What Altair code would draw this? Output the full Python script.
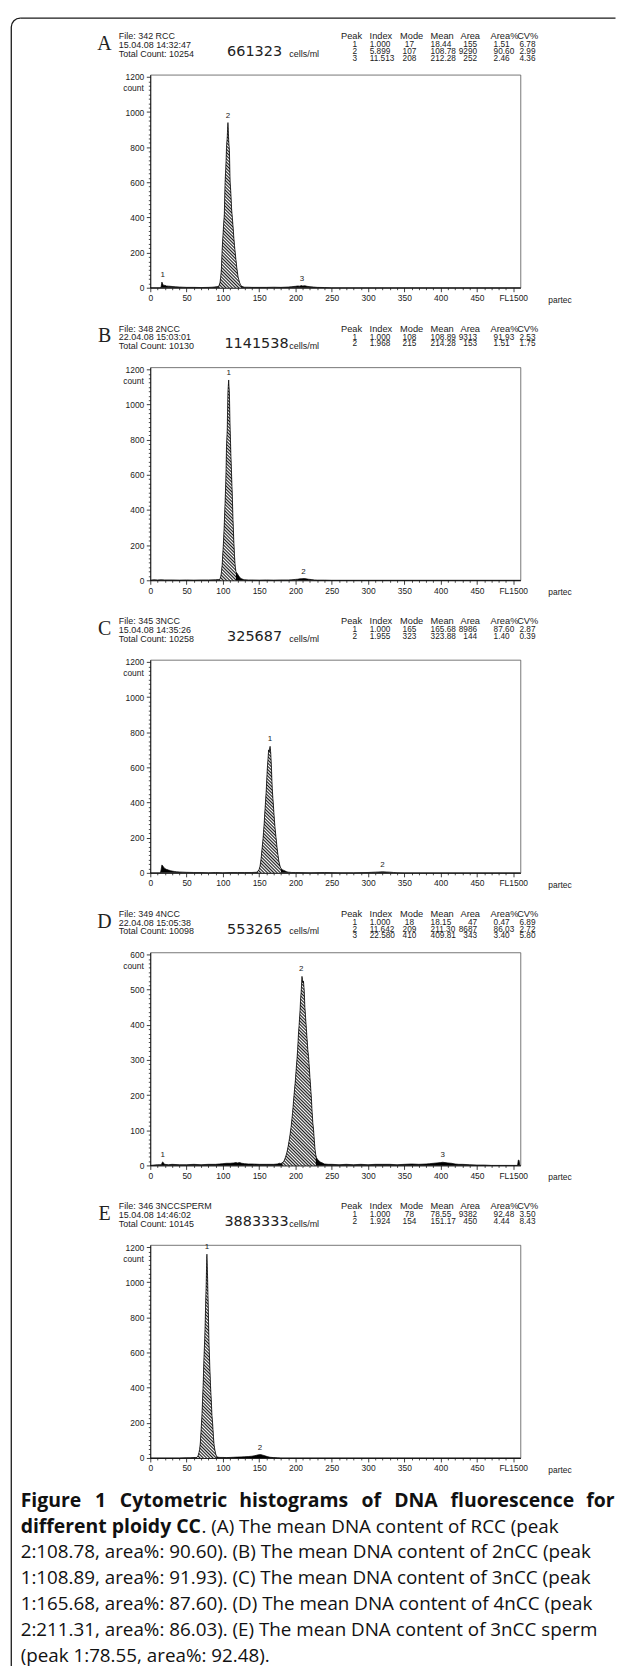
import math
import altair as alt
import pandas as pd

# ---------------- data (channel, count) ----------------
XMAX = 510
A_HIST = [(0,0),(14,0),(15,8),(16,32),(17,22),(18,14),(19,12),(20,14),(22,10),(25,9),(28,8),(30,7),(35,5),(40,4),(45,3),(50,2),(60,2),(70,1),(80,2),(85,3),(88,4),(90,5),(92,6),(94,8),(95,15),(96,30),(97,60),(98,110),(99,220),(100,290),(101,360),(102,420),(103,600),(104,680),(105,800),(106,860),(107,940),(108,840),(109,780),(110,600),(111,540),(112,450),(113,400),(114,350),(115,290),(116,240),(117,200),(118,160),(119,120),(120,90),(121,60),(122,45),(123,30),(124,20),(125,12),(126,8),(128,5),(130,3),(135,3),(140,2),(150,2),(160,2),(170,3),(180,2),(190,4),(195,6),(200,8),(203,10),(206,9),(208,12),(210,10),(213,11),(216,8),(220,6),(225,4),(230,2),(240,1),(250,0),(510,0)]
B_HIST = [(0,0),(2,2),(5,3),(10,2),(15,3),(20,2),(30,2),(40,1),(50,2),(60,1),(70,2),(80,2),(90,3),(94,4),(95,3),(96,8),(97,20),(98,45),(99,90),(100,160),(101,230),(102,330),(103,440),(104,560),(105,760),(106,860),(107,1080),(108,1140),(109,1060),(110,860),(111,720),(112,600),(113,480),(114,340),(115,230),(116,140),(117,80),(118,50),(119,42),(120,38),(121,30),(122,24),(123,18),(124,13),(125,10),(126,8),(128,5),(130,3),(135,2),(140,2),(150,1),(160,2),(170,1),(180,2),(190,2),(195,3),(200,5),(203,6),(206,8),(209,9),(212,10),(215,8),(218,6),(222,4),(226,2),(230,1),(240,1),(250,0),(510,0)]
C_HIST = [(0,0),(14,0),(15,20),(16,45),(17,40),(18,35),(19,28),(20,25),(22,20),(25,16),(28,12),(30,10),(33,8),(36,6),(40,5),(45,4),(50,3),(60,2),(70,2),(80,1),(90,2),(100,1),(110,2),(120,2),(130,2),(140,2),(144,3),(146,3),(148,8),(150,20),(151,35),(152,60),(153,95),(154,140),(155,180),(156,230),(157,290),(158,360),(159,420),(160,490),(161,580),(162,640),(163,700),(164,690),(165,720),(166,680),(167,590),(168,480),(169,420),(170,360),(171,300),(172,250),(173,210),(174,170),(175,130),(176,100),(177,70),(178,50),(179,35),(180,25),(182,18),(184,14),(186,10),(188,6),(190,4),(195,2),(200,2),(220,1),(240,2),(260,1),(280,1),(300,2),(305,3),(310,4),(315,5),(320,6),(325,5),(330,4),(335,2),(340,1),(350,0),(510,0)]
D_HIST = [(0,0),(5,1),(10,2),(15,2),(16,6),(17,10),(18,8),(19,4),(20,3),(25,2),(30,3),(40,2),(50,2),(60,3),(70,2),(80,3),(90,3),(95,4),(100,5),(105,6),(110,6),(115,7),(118,8),(120,7),(123,8),(126,6),(130,5),(135,4),(140,4),(150,3),(160,3),(170,3),(175,4),(178,6),(180,5),(182,8),(184,12),(186,22),(188,35),(190,55),(192,80),(194,110),(196,150),(198,200),(200,245),(201,275),(202,300),(203,330),(204,370),(205,400),(206,430),(207,470),(208,500),(209,538),(210,520),(211,525),(212,500),(213,450),(214,420),(215,390),(216,360),(217,330),(218,310),(219,280),(220,250),(221,220),(222,190),(223,150),(224,120),(225,100),(226,70),(227,45),(228,30),(229,22),(230,18),(232,14),(234,10),(236,8),(238,6),(240,4),(245,3),(250,3),(260,2),(270,3),(280,2),(290,3),(300,2),(310,3),(320,3),(330,3),(340,2),(350,3),(360,4),(370,3),(380,4),(385,5),(390,6),(395,7),(400,8),(403,9),(406,8),(410,7),(415,6),(420,4),(425,3),(430,3),(440,2),(450,1),(460,1),(470,0),(506,0),(507,15),(508,15),(509,0),(510,0)]
E_HIST = [(0,0),(40,0),(50,1),(55,1),(60,2),(62,2),(64,3),(65,8),(66,15),(67,30),(68,50),(69,90),(70,160),(71,230),(72,330),(73,440),(74,580),(75,680),(76,830),(77,1000),(78,1160),(79,1020),(80,830),(81,640),(82,520),(83,410),(84,330),(85,240),(86,190),(87,120),(88,70),(89,45),(90,25),(91,12),(92,6),(94,4),(96,3),(100,3),(105,2),(110,3),(115,4),(120,5),(125,6),(130,7),(135,8),(140,10),(143,12),(146,15),(149,18),(152,19),(155,16),(158,12),(161,8),(165,4),(170,2),(175,1),(180,0),(510,0)]

A_PEAKS = [(17, 32, "1"), (107, 940, "2"), (209, 12, "3")]
B_PEAKS = [(108, 1140, "1"), (211, 10, "2")]
C_PEAKS = [(165, 720, "1"), (320, 6, "2")]
D_PEAKS = [(17, 10, "1"), (208, 538, "2"), (403, 9, "3")]
E_PEAKS = [(78, 1160, "1"), (151, 19, "2")]

A_FILE = ["File: 342 RCC", "15.04.08 14:32:47", "Total Count:  10254"]
B_FILE = ["File: 348 2NCC", "22.04.08 15:03:01", "Total Count:  10130"]
C_FILE = ["File: 345 3NCC", "15.04.08 14:35:26", "Total Count:  10258"]
D_FILE = ["File: 349 4NCC", "22.04.08 15:05:38", "Total Count:  10098"]
E_FILE = ["File: 346 3NCCSPERM", "15.04.08 14:46:02", "Total Count:  10145"]

TABLE_HEAD = ["Peak", "Index", "Mode", "Mean", "Area", "Area%", "CV%"]
A_ROWS = [["1", "1.000", "17", "18.44", "155", "1.51", "6.78"],
          ["2", "5.899", "107", "108.78", "9290", "90.60", "2.99"],
          ["3", "11.513", "208", "212.28", "252", "2.46", "4.36"]]
B_ROWS = [["1", "1.000", "108", "108.89", "9313", "91.93", "2.53"],
          ["2", "1.968", "215", "214.28", "153", "1.51", "1.75"]]
C_ROWS = [["1", "1.000", "165", "165.68", "8986", "87.60", "2.87"],
          ["2", "1.955", "323", "323.88", "144", "1.40", "0.39"]]
D_ROWS = [["1", "1.000", "18", "18.15", "47", "0.47", "6.89"],
          ["2", "11.642", "209", "211.30", "8687", "86.03", "2.72"],
          ["3", "22.580", "410", "409.81", "343", "3.40", "5.80"]]
E_ROWS = [["1", "1.000", "78", "78.55", "9382", "92.48", "3.50"],
          ["2", "1.924", "154", "151.17", "450", "4.44", "8.43"]]

X_TICKS = list(range(0, 501, 50))
X_MINOR = [v for v in range(0, 501, 10) if v % 50]
Y_TICKS_1200 = [0, 200, 400, 600, 800, 1000, 1200]
Y_MINOR_1200 = [v * 25 for v in range(49) if (v * 25) % 200]
Y_TICKS_600 = [0, 100, 200, 300, 400, 500, 600]
Y_MINOR_600 = [v * 12.5 for v in range(49) if (v * 12.5) % 100]

CAPTION_WORDS_1 = ["Figure", "1", "Cytometric", "histograms", "of", "DNA", "fluorescence", "for"]
CAPTION_BOLD_2 = "different ploidy CC"
CAPTION_REST_2 = ". (A) The mean DNA content of RCC (peak"
CAPTION_LINES = [
    "2:108.78, area%: 90.60). (B) The mean DNA content of 2nCC (peak",
    "1:108.89, area%: 91.93). (C) The mean DNA content of 3nCC (peak",
    "1:165.68, area%: 87.60). (D) The mean DNA content of 4nCC (peak",
    "2:211.31, area%: 86.03). (E) The mean DNA content of 3nCC sperm",
    "(peak 1:78.55, area%: 92.48).",
]

PANELS = [
    dict(letter="A", hist=A_HIST, gate=(95, 125), ymax=1212, major=Y_TICKS_1200, minor=Y_MINOR_1200,
         file=A_FILE, number="661323", rows=A_ROWS, peaks=A_PEAKS),
    dict(letter="B", hist=B_HIST, gate=(96, 118), ymax=1212, major=Y_TICKS_1200, minor=Y_MINOR_1200,
         file=B_FILE, number="1141538", rows=B_ROWS, peaks=B_PEAKS),
    dict(letter="C", hist=C_HIST, gate=(148, 180), ymax=1212, major=Y_TICKS_1200, minor=Y_MINOR_1200,
         file=C_FILE, number="325687", rows=C_ROWS, peaks=C_PEAKS),
    dict(letter="D", hist=D_HIST, gate=(182, 228), ymax=606, major=Y_TICKS_600, minor=Y_MINOR_600,
         file=D_FILE, number="553265", rows=D_ROWS, peaks=D_PEAKS),
    dict(letter="E", hist=E_HIST, gate=(64, 91), ymax=1212, major=Y_TICKS_1200, minor=Y_MINOR_1200,
         file=E_FILE, number="3883333", rows=E_ROWS, peaks=E_PEAKS),
]

# ---------------- layout / style ----------------
W, H = 372, 214
SANS = "Liberation Sans"
SERIF = "Liberation Serif"
NUMFONT = "DejaVu Sans"
CAPFONT = "Open Sans"
CAPBOLD = 19.5
CAPSIZE = 18.9
INK = "#222222"
DUMMY = pd.DataFrame({"k": [0]})

# table columns: header x, header align, value x, value align
TABLE_POS = [(202.2, "center", 205.5, "center"), (220.4, "left", 220.5, "left"),
             (251.0, "left", 260.4, "center"), (281.7, "left", 281.7, "left"),
             (311.7, "left", 328.4, "right"), (342.0, "left", 345.0, "left"),
             (368.7, "left", 371.0, "left")]


def T(s, x, y, size=9.0, font=SANS, align="left", weight="normal", color=INK):
    return alt.Chart(DUMMY).mark_text(
        text=s, fontSize=size, font=font, align=align, fontWeight=weight,
        color=color, baseline="middle"
    ).encode(x=alt.value(x), y=alt.value(y))


def hatch_fill(w, h, p=2.3, dark="#1e1e1e", light="#ffffff"):
    # diagonal hatch as a periodic linear gradient in bounding-box units
    denom = w + h * h / w
    dt = p * math.sqrt(2) / denom
    tmax = min(w * (w + h) / (w * w + h * h) + 2 * dt, 1.0)
    stops = []
    t = 0.0
    while t < tmax:
        stops += [(t, dark), (min(t + 0.5 * dt, 1.0), light)]
        t += dt
    return alt.LinearGradient(
        gradient="linear",
        stops=[alt.GradientStop(offset=round(o, 6), color=col) for o, col in stops],
        x1=0, y1=1, x2=1, y2=1 - h / w,
    )


def panel(p, extra=()):
    df = pd.DataFrame(p["hist"], columns=["ch", "cnt"])
    lo, hi = p["gate"]
    gdf = df[(df.ch >= lo) & (df.ch <= hi)].reset_index(drop=True)
    ymax = p["ymax"]
    xs = alt.Scale(domain=[0, XMAX], nice=False, zero=False)
    ys = alt.Scale(domain=[0, ymax], nice=False, zero=False)

    minor_x = alt.Axis(values=X_MINOR, labels=False, domain=False, tickSize=2, grid=False,
                       title=None, orient="bottom", tickColor=INK)
    minor_y = alt.Axis(values=p["minor"], labels=False, domain=False, tickSize=2, grid=False,
                       title=None, orient="left", tickColor=INK)
    main_x = alt.Axis(values=X_TICKS, labelExpr="datum.value == 500 ? 'FL1500' : datum.label",
                      tickSize=4, labelPadding=2, grid=False, title=None, orient="bottom",
                      labelFlush=False, labelOverlap=False)
    main_y = alt.Axis(values=p["major"], format="d", tickSize=4, labelPadding=2.5, grid=False,
                      title=None, orient="left", labelOverlap=False)

    black = alt.Chart(df).mark_area(color="black", opacity=1).encode(
        x=alt.X("ch:Q", scale=xs, axis=minor_x), y=alt.Y("cnt:Q", scale=ys, axis=minor_y))
    w = (gdf.ch.max() - gdf.ch.min()) / XMAX * W
    h = gdf.cnt.max() / ymax * H
    hatch = alt.Chart(gdf).mark_area(fill=hatch_fill(w, h), opacity=1).encode(
        x=alt.X("ch:Q", scale=xs, axis=None), y=alt.Y("cnt:Q", scale=ys, axis=None))
    outline = alt.Chart(df).mark_line(color="black", strokeWidth=0.7).encode(
        x=alt.X("ch:Q", scale=xs, axis=main_x), y=alt.Y("cnt:Q", scale=ys, axis=main_y))
    pk = pd.DataFrame(p["peaks"], columns=["ch", "cnt", "t"])
    peaks = alt.Chart(pk).mark_text(dy=-7, fontSize=8, font=SANS, color=INK).encode(
        x=alt.X("ch:Q", scale=xs, axis=None), y=alt.Y("cnt:Q", scale=ys, axis=None), text="t:N")

    texts = []
    top_tick = H - p["major"][-1] / ymax * H
    texts.append(T("count", -6.5, top_tick + 11.5, size=8.5, align="right"))
    texts.append(T("partec", 411.7, H + 12, size=8.5, align="center"))
    texts.append(T(p["letter"], -46.0, -31.0, size=20, font=SERIF, align="center"))
    for i, line in enumerate(p["file"]):
        texts.append(T(line, -31.6, -38.7 + 8.7 * i, size=9))
    numx = 74.5 if len(p["number"]) > 6 else 77.2
    texts.append(T(p["number"], numx, -23.0, size=14.5, font=NUMFONT))
    texts.append(T("cells/ml", 139.7, -21.3, size=9))
    for j, head in enumerate(TABLE_HEAD):
        hx, ha, vx, va = TABLE_POS[j]
        texts.append(T(head, hx, -38.7, size=9.3, align=ha))
        for i, row in enumerate(p["rows"]):
            texts.append(T(row[j], vx, -29.7 + 6.7 * i, size=8.3, align=va))

    return alt.layer(*extra, black, hatch, outline, peaks, *texts).resolve_axis(
        x="independent", y="independent").properties(width=W, height=H)


# page-frame (rounded border) drawn in panel A's coordinates
R = 9
BX, BY = -139.7, -57.0
frame = [
    alt.Chart(DUMMY).mark_rule(color="#1a1a1a", strokeWidth=1.3).encode(
        x=alt.value(BX), y=alt.value(BY + R), y2=alt.value(1599)),
    alt.Chart(DUMMY).mark_rule(color="#1a1a1a", strokeWidth=1.3).encode(
        x=alt.value(BX + R), x2=alt.value(467.5), y=alt.value(BY)),
    alt.Chart(DUMMY).mark_arc(radius=R, radius2=R, theta=3 * math.pi / 2, theta2=2 * math.pi,
                              stroke="#1a1a1a", strokeWidth=1.3, fillOpacity=0).encode(
        x=alt.value(BX + R), y=alt.value(BY + R)),
]

# caption drawn in panel E's coordinates (first line justified word by word)
CX = -130.3
CY0, CDY = 257.0, 26.0
WORD_X_1 = [0.0, 74.8, 99.7, 219.8, 342.5, 375.4, 432.1]   # offsets from the caption's left edge
caption = []
for word, off in zip(CAPTION_WORDS_1[:-1], WORD_X_1):
    caption.append(T(word, CX + off, CY0, size=CAPBOLD, font=CAPFONT, weight="bold", color="#111"))
caption.append(T(CAPTION_WORDS_1[-1], 466.5, CY0, size=CAPBOLD, font=CAPFONT, weight="bold",
                 color="#111", align="right"))
caption.append(T(CAPTION_BOLD_2, CX, CY0 + CDY, size=CAPBOLD, font=CAPFONT, weight="bold", color="#111"))
caption.append(T(CAPTION_REST_2, 51.4, CY0 + CDY, size=CAPSIZE, font=CAPFONT, color="#111"))
for i, line in enumerate(CAPTION_LINES):
    caption.append(T(line, CX, CY0 + CDY * (i + 2), size=CAPSIZE, font=CAPFONT, color="#111"))

charts = []
for k, p in enumerate(PANELS):
    extra = frame if k == 0 else (caption if k == 4 else ())
    charts.append(panel(p, extra))

chart = alt.vconcat(*charts, spacing=80, bounds="flush").properties(
    padding={"left": 0, "top": 3, "right": 0, "bottom": 0}
).configure_view(stroke="#555555", strokeWidth=0.8).configure_axis(
    labelFont=SANS, labelFontSize=8.5, labelColor=INK, tickColor="#111111",
    domainColor="#111111", domainWidth=0.9, tickWidth=0.8
)

chart.save("out.html", embed_options={"renderer": "svg", "actions": False})
